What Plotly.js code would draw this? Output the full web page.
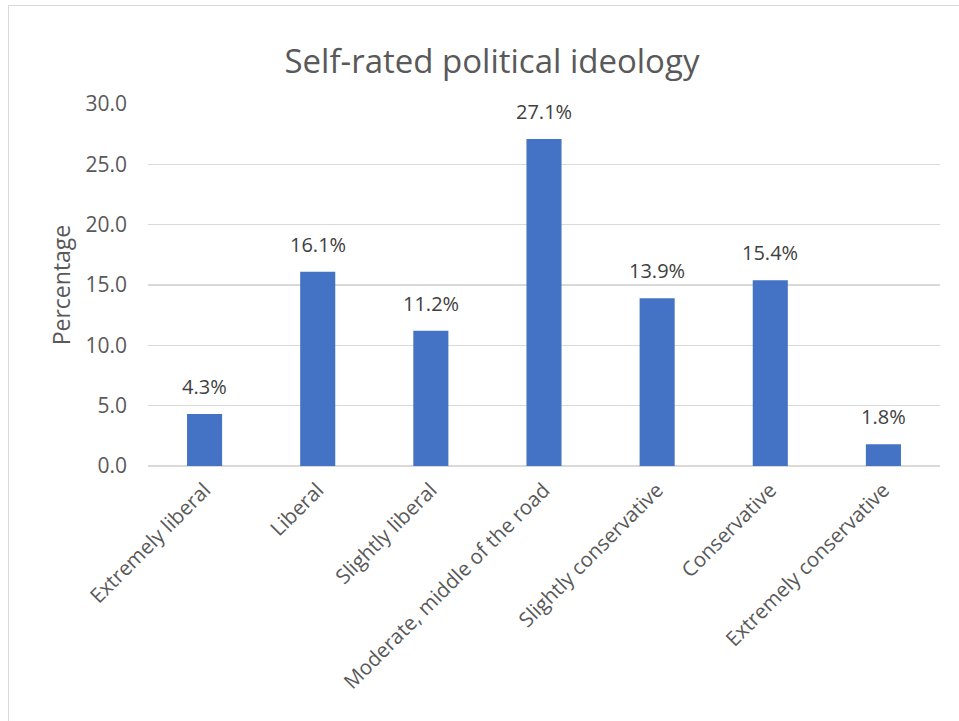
<!DOCTYPE html>
<html><head><meta charset="utf-8">
<script src="https://cdn.plot.ly/plotly-3.0.1.min.js"></script>
<style>
html,body{margin:0;padding:0;background:#fff;}
#frame{position:absolute;left:8px;top:5px;width:980px;height:760px;border:1.5px solid #d9d9d9;}
#chart{position:absolute;left:0;top:0;width:959px;height:721px;}
</style></head>
<body>
<div id="frame"></div>
<div id="chart"></div>
<script>
const categories = ["Extremely liberal","Liberal","Slightly liberal","Moderate, middle of the road","Slightly conservative","Conservative","Extremely conservative"];
const percentages = [4.3, 16.1, 11.2, 27.1, 13.9, 15.4, 1.8];
const yTicks = [0, 5, 10, 15, 20, 25, 30];

const font = "Open Sans, Liberation Sans, sans-serif";
const labels = categories.map((c, i) => ({
  x: c, y: percentages[i], xref: 'x', yref: 'y',
  text: percentages[i].toFixed(1) + '%',
  showarrow: false, yanchor: 'bottom', yshift: 12,
  font: {size: 20, color: '#404040', family: font}
}));

Plotly.newPlot('chart', [{
  type: 'bar',
  x: categories,
  y: percentages,
  marker: {color: '#4472c4'},
  hoverinfo: 'none'
}], {
  width: 959, height: 721,
  paper_bgcolor: 'rgba(0,0,0,0)', plot_bgcolor: 'rgba(0,0,0,0)',
  margin: {l: 148, r: 19, t: 104, b: 255},
  bargap: 0.69,
  showlegend: false,
  annotations: labels,
  title: {text: 'Self-rated political ideology', font: {size: 33, color: '#595959', family: font}, x: 0.513, xanchor: 'center', y: 0.915, yanchor: 'middle'},
  xaxis: {
    tickangle: -45,
    tickfont: {size: 20.5, color: '#595959', family: font},
    ticklabelstandoff: 7,
    showline: false, ticks: '', showgrid: false, zeroline: false
  },
  yaxis: {
    range: [0, 30],
    tickvals: yTicks,
    ticktext: yTicks.map(v => v.toFixed(1)),
    tickfont: {size: 21, color: '#595959', family: font},
    ticklabelstandoff: 20,
    gridcolor: '#d9d9d9', gridwidth: 1.3,
    zeroline: true, zerolinecolor: '#d9d9d9', zerolinewidth: 1.3,
    ticks: '', ticklen: 0,
    title: {text: 'Percentage', font: {size: 23, color: '#595959', family: font}, standoff: 8}
  }
}, {staticPlot: true});
</script>
</body></html>
